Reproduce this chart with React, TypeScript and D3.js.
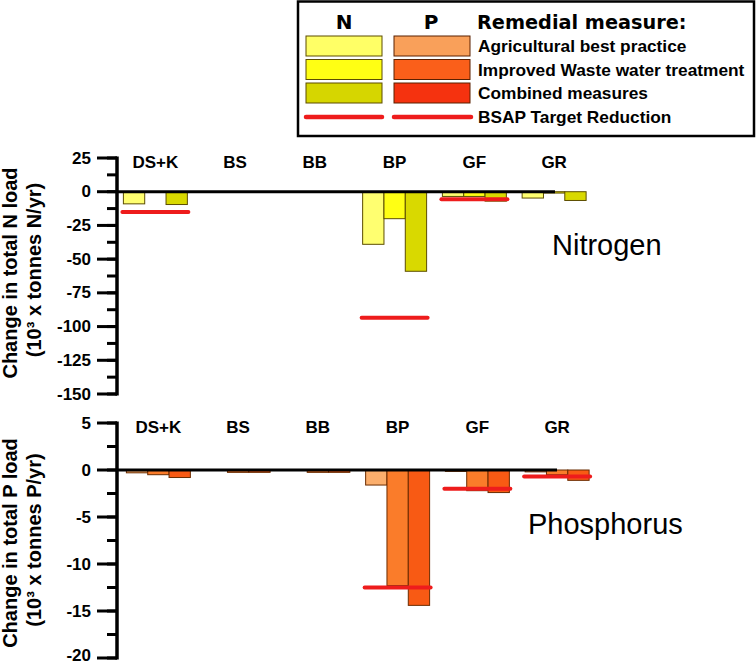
import React from "react";
import * as d3 from "d3";

const categories = ["DS+K", "BS", "BB", "BP", "GF", "GR"];

// Nitrogen (10^3 tonnes N/yr)
const nAgri = [-9, 0, 0, -39, -3.5, -4.7];
const nWWT = [0, 0, 0, -20, -3.5, -1];
const nComb = [-9.5, 0, 0, -59, -7, -6.5];
const nTarget: (number | null)[] = [-15, null, null, -93.5, -5.5, null];

// Phosphorus (10^3 tonnes P/yr)
const pAgri = [-0.3, 0, 0, -1.6, -0.15, -0.2];
const pWWT = [-0.5, -0.25, -0.25, -12.3, -2.2, -0.5];
const pComb = [-0.8, -0.25, -0.25, -14.4, -2.4, -1.1];
const pTarget: (number | null)[] = [null, null, null, -12.5, -2, -0.7];

const nTicks = [25, 0, -25, -50, -75, -100, -125, -150];
const pTicks = [5, 0, -5, -10, -15, -20];

const measures = ["Agricultural best practice", "Improved Waste water treatment", "Combined measures"];

const nColors = ["#FFFF70", "#FFFF14", "#D9D900"];
const pColors = ["#FBAE6C", "#FA7C2A", "#F85A14"];
const nLegendColors = ["#FFFF66", "#FFFF14", "#D6D600"];
const pLegendColors = ["#F9A05A", "#FA5F1A", "#F5320F"];
const RED = "#EE1C1C";
const BOLD = "'Liberation Sans', Arial, sans-serif";

type PanelProps = {
  series: number[][];
  target: (number | null)[];
  colors: string[];
  stroke: string;
  domain: [number, number];
  yRange: [number, number];
  xRange: [number, number];
  ticks: number[];
  minorStep: number;
  catY: number;
  zeroEnd: number;
  label1: string;
  label2: string;
  labelCy: number;
  title: string;
  titleX: number;
  titleY: number;
};

function Panel(p: PanelProps) {
  const y = d3.scaleLinear().domain(p.domain).range(p.yRange);
  const x = d3.scaleBand<string>().domain(categories).range(p.xRange).padding(0);
  const sub = d3
    .scaleBand<number>()
    .domain([0, 1, 2])
    .range([0, x.step()])
    .paddingInner(0)
    .paddingOuter(0.37);
  const axisX = 117;
  const minor = d3.range(p.domain[0], p.domain[1] - 0.001, -p.minorStep);
  const y0 = y(0);
  return (
    <g>
      {p.series.map((vals, si) =>
        vals.map((v, ci) =>
          v === 0 ? null : (
            <rect
              key={`b${si}-${ci}`}
              x={(x(categories[ci]) as number) + (sub(si) as number)}
              y={y0}
              width={sub.bandwidth()}
              height={y(v) - y0}
              fill={p.colors[si]}
              stroke={p.stroke}
              strokeWidth={1}
            />
          )
        )
      )}
      <line x1={axisX} x2={p.zeroEnd} y1={y0} y2={y0} stroke="#000" strokeWidth={3} />
      {p.target.map((t, ci) =>
        t === null ? null : (
          <line
            key={`t${ci}`}
            x1={(x(categories[ci]) as number) + (sub(0) as number) - 1}
            x2={(x(categories[ci]) as number) + (sub(2) as number) + sub.bandwidth() + 1}
            y1={y(t)}
            y2={y(t)}
            stroke={RED}
            strokeWidth={4}
            strokeLinecap="round"
          />
        )
      )}
      <line x1={axisX} x2={axisX} y1={p.yRange[0] - 1.5} y2={p.yRange[1] + 1.5} stroke="#000" strokeWidth={3.5} />
      {minor.map((v, i) => (
        <line key={`m${i}`} x1={axisX - 10} x2={axisX} y1={y(v)} y2={y(v)} stroke="#000" strokeWidth={3} />
      ))}
      {p.ticks.map((v) => (
        <g key={`k${v}`}>
          <line x1={axisX - 20} x2={axisX} y1={y(v)} y2={y(v)} stroke="#000" strokeWidth={3} />
          <text
            x={91}
            y={Math.min(y(v) + 5.6, 660.5)}
            textAnchor="end"
            fontFamily={BOLD}
            fontWeight="bold"
            fontSize={17}
          >
            {v}
          </text>
        </g>
      ))}
      {categories.map((c) => (
        <text
          key={c}
          x={(x(c) as number) + x.bandwidth() / 2}
          y={p.catY}
          textAnchor="middle"
          fontFamily={BOLD}
          fontWeight="bold"
          fontSize={17}
        >
          {c}
        </text>
      ))}
      <text
        transform={`translate(17,${p.labelCy}) rotate(-90)`}
        textAnchor="middle"
        fontFamily={BOLD}
        fontWeight="bold"
        fontSize={20}
      >
        {p.label1}
      </text>
      <text
        transform={`translate(41,${p.labelCy - 3}) rotate(-90)`}
        textAnchor="middle"
        fontFamily={BOLD}
        fontWeight="bold"
        fontSize={20}
      >
        {p.label2}
      </text>
      <text x={p.titleX} y={p.titleY} fontFamily={BOLD} fontSize={29}>
        {p.title}
      </text>
    </g>
  );
}

function Legend() {
  const rows = [46, 69.5, 93];
  const heavy = "'DejaVu Sans', Verdana, sans-serif";
  return (
    <g>
      <rect x={298} y={1.5} width={456} height={134.5} fill="#fff" stroke="#000" strokeWidth={2.5} />
      <text x={344} y={28.5} textAnchor="middle" fontFamily={heavy} fontWeight="bold" fontSize={20}>
        N
      </text>
      <text x={431} y={28.5} textAnchor="middle" fontFamily={heavy} fontWeight="bold" fontSize={20}>
        P
      </text>
      <text x={477} y={28.5} fontFamily={heavy} fontWeight="bold" fontSize={19.3}>
        Remedial measure:
      </text>
      {measures.map((m, i) => (
        <g key={m}>
          <rect x={306} y={rows[i] - 10} width={76} height={20} fill={nLegendColors[i]} stroke="#5c4d00" strokeWidth={1} />
          <rect x={394} y={rows[i] - 10} width={76} height={20} fill={pLegendColors[i]} stroke="#5a2000" strokeWidth={1} />
          <text x={478} y={rows[i] + 6.3} fontFamily={BOLD} fontWeight="bold" fontSize={17.3}>
            {m}
          </text>
        </g>
      ))}
      <line x1={306} x2={382} y1={117} y2={117} stroke={RED} strokeWidth={4.5} strokeLinecap="round" />
      <line x1={394} x2={471} y1={117} y2={117} stroke={RED} strokeWidth={4.5} strokeLinecap="round" />
      <text x={478} y={123.3} fontFamily={BOLD} fontWeight="bold" fontSize={17.3}>
        BSAP Target Reduction
      </text>
    </g>
  );
}

export default function App() {
  return (
    <svg
      width={756}
      height={665}
      style={{ position: "absolute", left: 0, top: 0, background: "#fff" }}
    >
      <Legend />
      <Panel
        series={[nAgri, nWWT, nComb]}
        target={nTarget}
        colors={nColors}
        stroke="#5c4d00"
        domain={[25, -150]}
        yRange={[158, 394]}
        xRange={[115.5, 594]}
        ticks={nTicks}
        minorStep={12.5}
        catY={167.5}
        zeroEnd={555}
        label1="Change in total N load"
        label2="(10³ x tonnes N/yr)"
        labelCy={273}
        title="Nitrogen"
        titleX={552}
        titleY={255}
      />
      <Panel
        series={[pAgri, pWWT, pComb]}
        target={pTarget}
        colors={pColors}
        stroke="#6b2c00"
        domain={[5, -20]}
        yRange={[423, 658]}
        xRange={[118.5, 597]}
        ticks={pTicks}
        minorStep={2.5}
        catY={432.5}
        zeroEnd={557}
        label1="Change in total P load"
        label2="(10³ x tonnes P/yr)"
        labelCy={543}
        title="Phosphorus"
        titleX={528}
        titleY={534}
      />
    </svg>
  );
}
